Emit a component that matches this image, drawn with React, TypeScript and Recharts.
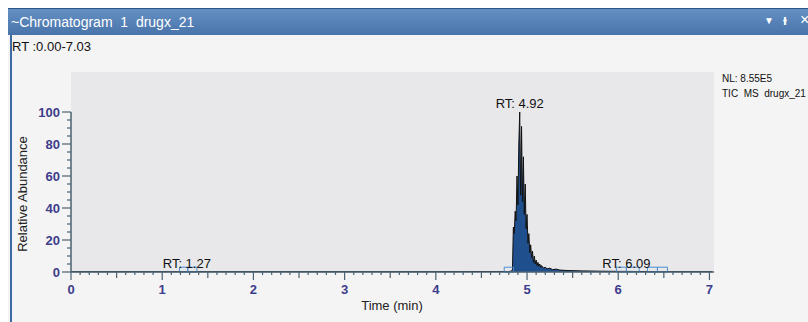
import React from 'react'
import {
  ComposedChart, Area, XAxis, YAxis, CartesianGrid, ReferenceArea, ReferenceDot, ReferenceLine,
} from 'recharts'

// chromatogram trace: retention time (min) and relative abundance (%)
const TIME = [
  0, 0.5, 1, 1.5, 2, 2.5, 3, 3.5, 4, 4.5, 4.8, 4.82, 4.84,
  4.85, 4.86, 4.87, 4.88, 4.89, 4.9, 4.91, 4.92, 4.93, 4.94, 4.95, 4.96, 4.97, 4.98, 4.99,
  5.0, 5.01, 5.02, 5.03, 5.04, 5.05, 5.06, 5.07, 5.08, 5.09, 5.1, 5.11, 5.12, 5.13, 5.14, 5.15, 5.16,
  5.18, 5.2, 5.22, 5.25, 5.28, 5.32, 5.36, 5.45, 5.6, 5.8, 6.0, 6.5, 7.03,
]
const ABUNDANCE = [
  0.2, 0.2, 0.2, 0.2, 0.2, 0.2, 0.2, 0.2, 0.2, 0.3, 0.3, 0.5, 1,
  28, 24, 38, 32, 60, 42, 80, 100, 48, 91, 44, 72, 36, 55, 27,
  36, 18, 24, 12, 17, 9, 13, 6, 10, 5, 7.5, 4, 6, 3.5, 5, 3, 4,
  2.5, 3, 2, 2.4, 1.5, 1.8, 1.2, 0.9, 0.7, 0.5, 0.4, 0.2, 0.2,
]

// labelled peaks and detected peak windows
const PEAK_LABELS = [1.27, 4.92, 6.09]
const PEAK_HEIGHTS = [0, 100, 0]
const PEAK_WINDOWS: [number, number][] = [
  [1.19, 1.28], [1.28, 1.38], [4.75, 4.85],
  [5.98, 6.09], [6.09, 6.23], [6.32, 6.43], [6.43, 6.54],
]

const X_TICKS = Array.from({ length: 71 }, (_, i) => i / 10)
const Y_TICKS = Array.from({ length: 21 }, (_, i) => i * 5)

const data = TIME.map((t, i) => ({ t, ab: ABUNDANCE[i] }))

const AXIS = '#4b6272'
const TICK_TEXT = '#3d3d8c'
const FONT = 'Arial, "Liberation Sans", sans-serif'

const XTick = ({ x, y, payload }: any) => {
  const v = payload.value
  const r = Math.round(v * 10)
  const major = r % 10 === 0
  const len = major ? 8 : r % 5 === 0 ? 6 : 3
  return (
    <g>
      <line x1={x} x2={x} y1={y} y2={y + len} stroke={AXIS} strokeWidth={1.2} />
      {major && (
        <text x={x} y={y + 22} textAnchor="middle" fill={TICK_TEXT} fontSize={13} fontWeight="bold" fontFamily={FONT}>
          {r / 10}
        </text>
      )}
    </g>
  )
}

const YTick = ({ x, y, payload }: any) => {
  const v = payload.value
  const major = v % 20 === 0
  const len = major ? 9 : 4
  return (
    <g>
      <line x1={x - len} x2={x} y1={y} y2={y} stroke={AXIS} strokeWidth={1.2} />
      {major && (
        <text x={x - 11} y={y + 4.5} textAnchor="end" fill={TICK_TEXT} fontSize={13} fontWeight="bold" fontFamily={FONT}>
          {v}
        </text>
      )}
    </g>
  )
}

export default function App() {
  return (
    <div style={{ position: 'fixed', left: 8, top: 8, width: 800, height: 314, background: '#f4f4f4', fontFamily: FONT, overflow: 'hidden' }}>
      {/* title bar */}
      <div style={{
        position: 'absolute', left: 0, top: 0, width: 800, height: 27,
        background: 'linear-gradient(#6490c4, #4874aa)', borderTop: '1px solid #2d5688',
        boxSizing: 'border-box', color: '#fff',
      }}>
        <span style={{ position: 'absolute', left: 3, top: 5, fontSize: 14, fontFamily: '"Liberation Sans Narrow", Arial, sans-serif' }}>
          ~Chromatogram&nbsp; 1&nbsp; drugx_21
        </span>
        <span style={{ position: 'absolute', left: 756, top: 6, fontSize: 10 }}>▼</span>
        <span style={{ position: 'absolute', left: 775, top: 3, fontSize: 14, fontWeight: 'bold' }}>ᵻ</span>
        <span style={{ position: 'absolute', left: 792, top: 2, fontSize: 16 }}>×</span>
      </div>
      {/* left frame border */}
      <div style={{ position: 'absolute', left: 2, top: 27, width: 2, height: 287, background: '#3e6aa3' }} />
      <div style={{ position: 'absolute', left: 4, top: 31, fontSize: 13, color: '#111', fontFamily: '"Liberation Sans Narrow", Arial, sans-serif' }}>
        RT :0.00-7.03
      </div>
      <div style={{ position: 'absolute', left: 714, top: 63, fontSize: 10, color: '#111', lineHeight: '15px', whiteSpace: 'nowrap' }}>
        NL: 8.55E5<br />TIC&nbsp; MS&nbsp; drugx_21
      </div>
      <div style={{
        position: 'absolute', left: 14, top: 186, fontSize: 13, color: '#222',
        transform: 'translate(-50%, -50%) rotate(-90deg)', whiteSpace: 'nowrap',
      }}>
        Relative Abundance
      </div>
      <div style={{ position: 'absolute', left: 384, top: 297, transform: 'translate(-50%, -50%)', fontSize: 13, color: '#222' }}>
        Time (min)
      </div>

      <div style={{ position: 'absolute', left: 0, top: 0 }}>
        <ComposedChart width={800} height={314} data={data} margin={{ top: 64, right: 94, left: 0, bottom: 20 }}>
          <CartesianGrid fill="#e8e8eb" stroke="none" horizontal={false} vertical={false} />
          <XAxis
            dataKey="t" type="number" domain={[0, 7.05]} ticks={X_TICKS} interval={0}
            tick={<XTick />} tickLine={false} tickSize={0} tickMargin={0} height={30}
            axisLine={{ stroke: AXIS, strokeWidth: 1.5 }}
          />
          <YAxis
            type="number" domain={[0, 125]} ticks={Y_TICKS} interval={0}
            tick={<YTick />} tickLine={false} tickSize={0} tickMargin={0} width={63}
            axisLine={false}
          />
          <ReferenceLine segment={[{ x: 0, y: 0 }, { x: 0, y: 100 }]} stroke={AXIS} strokeWidth={1.5} />
          <Area
            type="linear" dataKey="ab" stroke="#111" strokeWidth={1} fill="#1f4f8d" fillOpacity={1}
            isAnimationActive={false} dot={false} activeDot={false}
          />
          {PEAK_WINDOWS.map(([a, b], i) => (
            <ReferenceArea key={i} x1={a} x2={b} y1={0} y2={3} fill="none" stroke="#4a8dd0" strokeWidth={1} ifOverflow="visible" />
          ))}
          {PEAK_LABELS.map((t, i) => (
            <ReferenceDot
              key={t} x={t} y={PEAK_HEIGHTS[i]} r={0} stroke="none" ifOverflow="visible"
              label={{ value: `RT: ${t.toFixed(2)}`, position: 'top', offset: 4, fill: '#111', fontSize: 13, fontFamily: FONT }}
            />
          ))}
        </ComposedChart>
      </div>
    </div>
  )
}
